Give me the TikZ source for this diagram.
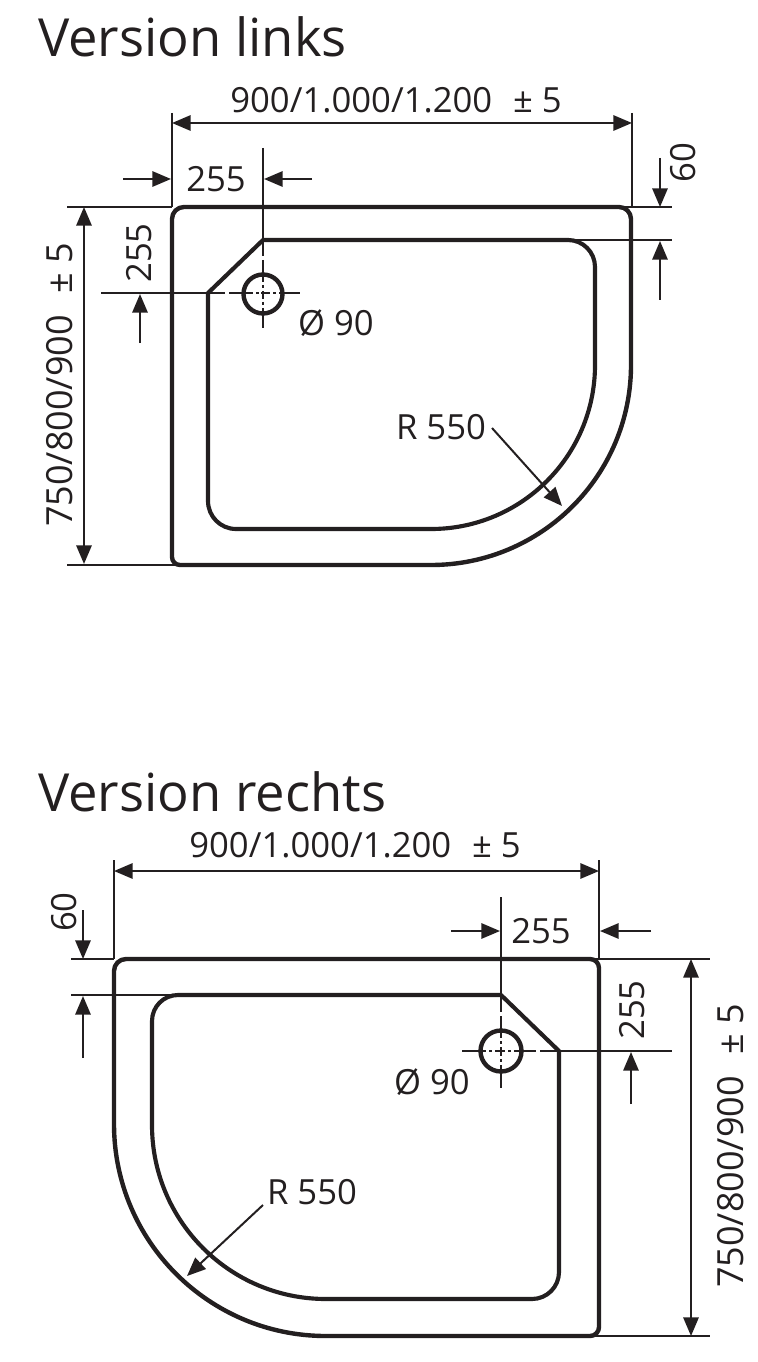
\documentclass[tikz,border=0pt]{standalone}
\usepackage{fontspec}
\setmainfont{Open Sans}
\usetikzlibrary{arrows.meta}
\tikzset{
  outline/.style={line width=3.3pt,color=ink,line join=round},
  inner/.style={line width=3.1pt,color=ink,line join=round},
  thin/.style={line width=1.5pt,color=ink},
  dim/.style={line width=1.5pt,color=ink,{Triangle[length=14pt,width=11.5pt]}-{Triangle[length=14pt,width=11.5pt]}},
  arr/.style={line width=1.5pt,color=ink,-{Triangle[length=14pt,width=11.5pt]}},
  lab/.style={font=\fontsize{26}{26}\selectfont,color=ink,inner sep=0pt},
  lablong/.style={font=\fontsize{27}{27}\selectfont,color=ink,inner sep=0pt},
  title/.style={font=\fontsize{39.4}{40}\selectfont,color=ink,inner sep=0pt,anchor=base west},
}
\definecolor{ink}{HTML}{231F20}
\begin{document}
\begin{tikzpicture}[x=0.75pt,y=-0.75pt]
\useasboundingbox (0,0) rectangle (757,1362);
% ---------- Version links
\node[title] (t1) at (38,57) {Version links};
\draw[outline] (184,207) -- (619,207) arc[start angle=-90,end angle=0,radius=12] -- (631,365)
  arc[start angle=0,end angle=90,radius=200] -- (180,565) arc[start angle=90,end angle=180,radius=8] -- (172,219)
  arc[start angle=180,end angle=270,radius=12] -- cycle;
\draw[inner] (263,240) -- (568,240) arc[start angle=-90,end angle=0,radius=27] -- (595,365)
  arc[start angle=0,end angle=90,radius=164] -- (236,529) arc[start angle=90,end angle=180,radius=28] -- (208,293) -- cycle;
\draw[outline] (263,294) circle[radius=19.5];
\coordinate (a1) at (172,123); \coordinate (a2) at (632,123);
\draw[thin] (172,113) -- (172,207); \draw[thin] (632,113) -- (632,207);
\draw[dim] (a1) -- (a2);
\node[lab] (l1) at (396,100) {900/1.000/1.200\hspace{0.6em}± 5};
\coordinate (b1) at (123,179); \coordinate (b2) at (171,179);
\coordinate (b3) at (312,179); \coordinate (b4) at (264,179);
\draw[arr] (b1) -- (b2); \draw[arr] (b3) -- (b4);
\node[lab] (l2) at (216,179) {255};
\draw[thin] (263,148) -- (263,256); \draw[thin] (263,260) -- (263,282);
\draw[thin] (263,285) -- (263,288); \draw[thin] (263,291) -- (263,299);
\draw[thin] (263,302) -- (263,305); \draw[thin] (263,308) -- (263,328);
\draw[thin] (101,293.5) -- (225,293.5); \draw[thin] (229,293.5) -- (253,293.5);
\draw[thin] (256,293.5) -- (259,293.5); \draw[thin] (261,293.5) -- (270,293.5);
\draw[thin] (273,293.5) -- (276,293.5); \draw[thin] (279,293.5) -- (300,293.5);
\draw[thin] (67,207) -- (172,207); \draw[thin] (67,564.5) -- (180,564.5);
\coordinate (c1) at (84,207); \coordinate (c2) at (84,564);
\draw[dim] (c1) -- (c2);
\node[lablong,rotate=90] (l3) at (60,385) {750/800/900\hspace{0.6em}± 5};
\node[lab,rotate=90] (l4) at (139,253) {255};
\coordinate (d1) at (140,343); \coordinate (d2) at (140,294);
\draw[arr] (d1) -- (d2);
\draw[thin] (625,207) -- (672,207); \draw[thin] (570,240) -- (672,240);
\coordinate (e1) at (660,158); \coordinate (e2) at (660,207);
\coordinate (e3) at (660,300); \coordinate (e4) at (660,241);
\draw[arr] (e1) -- (e2); \draw[arr] (e3) -- (e4);
\node[lab,rotate=90] (l5) at (683,163) {60};
\node[lab] (l6) at (336,323) {Ø 90};
\node[lab] (l7) at (441,427) {R 550};
\coordinate (f1) at (492,428); \coordinate (f2) at (562,506);
\draw[arr] (f1) -- (f2);
% ---------- Version rechts
\node[title] (t2) at (38,811) {Version rechts};
\draw[outline] (126,959) -- (590,959) arc[start angle=-90,end angle=0,radius=9] -- (599,1327)
  arc[start angle=0,end angle=90,radius=9] -- (326,1336) arc[start angle=90,end angle=180,radius=212] -- (114,971)
  arc[start angle=180,end angle=270,radius=12] -- cycle;
\draw[inner] (501,995) -- (559,1051) -- (559,1272) arc[start angle=0,end angle=90,radius=27] -- (326,1299)
  arc[start angle=90,end angle=180,radius=174] -- (152,1021) arc[start angle=180,end angle=270,radius=26] -- cycle;
\draw[outline] (501,1051) circle[radius=20.5];
\coordinate (g1) at (114,871); \coordinate (g2) at (599,871);
\draw[thin] (114,860) -- (114,959); \draw[thin] (599,860) -- (599,959);
\draw[dim] (g1) -- (g2);
\node[lab] (l8) at (355,845) {900/1.000/1.200\hspace{0.6em}± 5};
\coordinate (h1) at (451,931); \coordinate (h2) at (500,931);
\coordinate (h3) at (651,931); \coordinate (h4) at (600,931);
\draw[arr] (h1) -- (h2); \draw[arr] (h3) -- (h4);
\node[lab] (l9) at (541,931) {255};
\draw[thin] (501,897) -- (501,1012); \draw[thin] (501,1016) -- (501,1038);
\draw[thin] (501,1041) -- (501,1044); \draw[thin] (501,1047) -- (501,1056);
\draw[thin] (501,1059) -- (501,1062); \draw[thin] (501,1065) -- (501,1088);
\draw[thin] (462,1051) -- (486,1051); \draw[thin] (489,1051) -- (492,1051);
\draw[thin] (495,1051) -- (505,1051); \draw[thin] (508,1051) -- (511,1051);
\draw[thin] (514,1051) -- (536,1051); \draw[thin] (540,1051) -- (672,1051);
\draw[thin] (71,959) -- (114,959); \draw[thin] (71,995) -- (178,995);
\draw[thin] (595,959) -- (710,959); \draw[thin] (590,1336) -- (710,1336);
\coordinate (i1) at (83,910); \coordinate (i2) at (83,959);
\coordinate (i3) at (83,1058); \coordinate (i4) at (83,996);
\draw[arr] (i1) -- (i2); \draw[arr] (i3) -- (i4);
\node[lab,rotate=90] (l10) at (64,912) {60};
\coordinate (j1) at (691,959); \coordinate (j2) at (691,1336);
\draw[dim] (j1) -- (j2);
\node[lablong,rotate=90] (l11) at (731,1146) {750/800/900\hspace{0.6em}± 5};
\node[lab,rotate=90] (l12) at (632,1010) {255};
\coordinate (k1) at (631,1104); \coordinate (k2) at (631,1052);
\draw[arr] (k1) -- (k2);
\node[lab] (l13) at (432,1082) {Ø 90};
\node[lab] (l14) at (312,1192) {R 550};
\coordinate (m1) at (263,1205); \coordinate (m2) at (187,1276);
\draw[arr] (m1) -- (m2);
\end{tikzpicture}
\end{document}
